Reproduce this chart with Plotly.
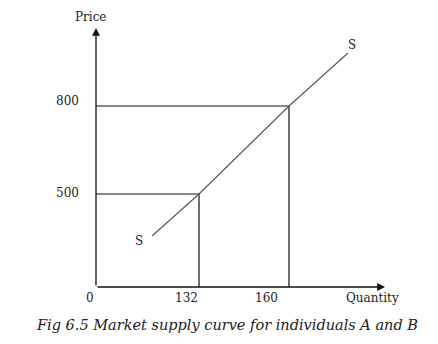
import plotly.graph_objects as go

# ---- data (values shown in the diagram) ----
quantity_values = [132, 160]
price_values = [500, 800]
quantity_labels = ["0", "132", "160"]
price_labels = ["500", "800"]
axis_titles = ["Quantity", "Price"]
curve_label = "S"
caption = "Fig 6.5 Market supply curve for individuals A and B"

# schematic (not to scale) diagram positions for the values above
q_pos = {132: 103, 160: 193}
p_pos = {500: 93, 800: 181}
# supply curve in schematic units: start, through the two points, end
supply_x = [56, q_pos[132], q_pos[160], 252]
supply_y = [51, p_pos[500], p_pos[800], 234]
X_END, Y_END = 289, 259

FONT = "DejaVu Serif"
fig = go.Figure()

# guide lines (rectangles from axes to points)
for q, p in zip(quantity_values, price_values):
    fig.add_trace(go.Scatter(
        x=[0, q_pos[q], q_pos[q]], y=[p_pos[p], p_pos[p], 0],
        mode="lines", line=dict(color="#111111", width=1.2),
        hoverinfo="skip", showlegend=False))

# supply curve
fig.add_trace(go.Scatter(x=supply_x, y=supply_y, mode="lines",
                         line=dict(color="#555555", width=1.1),
                         hoverinfo="skip", showlegend=False))


def P(x, y):
    """schematic units -> paper coordinates (allows labels outside the plot area)"""
    return x / X_END, y / Y_END


ann = []
# axes with arrowheads
ann.append(dict(x=0, y=Y_END, ax=0, ay=0, xref="x", yref="y", axref="x", ayref="y",
                showarrow=True, arrowhead=2, arrowsize=1.2, arrowwidth=1.3,
                arrowcolor="#111111", text=""))
ann.append(dict(x=X_END, y=0, ax=0, ay=0, xref="x", yref="y", axref="x", ayref="y",
                showarrow=True, arrowhead=2, arrowsize=1.2, arrowwidth=1.3,
                arrowcolor="#111111", text=""))

tf = dict(family=FONT, size=12, color="#222222")


def label(x, y, text, font=tf):
    px, py = P(x, y)
    ann.append(dict(x=px, y=py, xref="paper", yref="paper", xanchor="center",
                    yanchor="middle", text=text, showarrow=False, font=font))


# x tick labels (offset slightly left of guide lines as in the original)
label(-6, -11, quantity_labels[0])
label(q_pos[132] - 13, -11, quantity_labels[1])
label(q_pos[160] - 23, -11, quantity_labels[2])
label(X_END - 13, -11, axis_titles[0])
# y tick labels
label(-29, p_pos[500] + 1, price_labels[0])
label(-29, p_pos[800] + 5, price_labels[1])
label(-6, Y_END + 11, axis_titles[1])
# curve labels
label(supply_x[0] - 13, supply_y[0] - 5, curve_label)
label(supply_x[-1] + 4, supply_y[-1] + 8, curve_label)
# caption
label(131, -38, "<i>" + caption + "</i>", dict(family=FONT, size=14.5, color="#222222"))

fig.update_layout(
    width=438, height=344,
    margin=dict(l=96, r=53, t=28, b=57),
    paper_bgcolor="white", plot_bgcolor="white",
    xaxis=dict(range=[0, X_END], visible=False, fixedrange=True),
    yaxis=dict(range=[0, Y_END], visible=False, fixedrange=True),
    annotations=ann,
    showlegend=False,
)

fig.write_html("out.html", config={"displayModeBar": False})
